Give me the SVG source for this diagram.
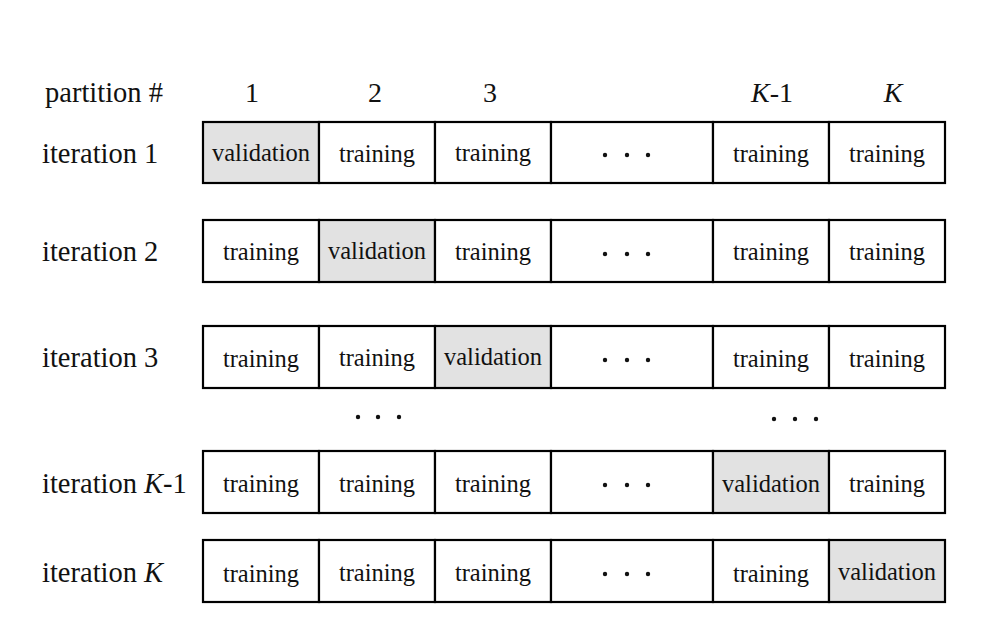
<svg xmlns="http://www.w3.org/2000/svg" width="985" height="634" viewBox="0 0 985 634">
<style>
.c{fill:#ffffff;stroke:#000;stroke-width:2.2}
.v{fill:#e2e2e2;stroke:#000;stroke-width:2.2}
.t{font-family:"Liberation Serif","Times New Roman",serif;font-size:24.5px;text-anchor:middle;fill:#111}
.l{font-family:"Liberation Serif","Times New Roman",serif;font-size:28.5px;fill:#111}
.h{font-family:"Liberation Serif","Times New Roman",serif;font-size:28px;text-anchor:middle;fill:#111}
.d{fill:#111}
</style>
<rect width="985" height="634" fill="#fff"/>
<g id="header">
<text class="l" x="45" y="102">partition #</text>
<text class="h" x="252" y="102">1</text>
<text class="h" x="375" y="102">2</text>
<text class="h" x="490" y="102">3</text>
<text class="h" x="772" y="102"><tspan font-style="italic">K</tspan>-1</text>
<text class="h" x="893" y="102" font-style="italic">K</text>
</g>
<g id="row1">
<text class="l" x="42" y="163">iteration 1</text>
<rect class="v" x="203" y="122" width="116" height="61"/>
<rect class="c" x="319" y="122" width="116" height="61"/>
<rect class="c" x="435" y="122" width="116" height="61"/>
<rect class="c" x="551" y="122" width="162" height="61"/>
<rect class="c" x="713" y="122" width="116" height="61"/>
<rect class="c" x="829" y="122" width="116" height="61"/>
<text class="t" x="261" y="161">validation</text>
<text class="t" x="377" y="162">training</text>
<text class="t" x="493" y="161">training</text>
<circle class="d" cx="605" cy="155" r="2.2"/><circle class="d" cx="627" cy="155" r="2.2"/><circle class="d" cx="648" cy="155" r="2.2"/>
<text class="t" x="771" y="162">training</text>
<text class="t" x="887" y="162">training</text>
</g>
<g id="row2">
<text class="l" x="42" y="261">iteration 2</text>
<rect class="c" x="203" y="220" width="116" height="62"/>
<rect class="v" x="319" y="220" width="116" height="62"/>
<rect class="c" x="435" y="220" width="116" height="62"/>
<rect class="c" x="551" y="220" width="162" height="62"/>
<rect class="c" x="713" y="220" width="116" height="62"/>
<rect class="c" x="829" y="220" width="116" height="62"/>
<text class="t" x="261" y="260">training</text>
<text class="t" x="377" y="259">validation</text>
<text class="t" x="493" y="260">training</text>
<circle class="d" cx="605" cy="254" r="2.2"/><circle class="d" cx="627" cy="254" r="2.2"/><circle class="d" cx="648" cy="254" r="2.2"/>
<text class="t" x="771" y="260">training</text>
<text class="t" x="887" y="260">training</text>
</g>
<g id="row3">
<text class="l" x="42" y="367">iteration 3</text>
<rect class="c" x="203" y="326" width="116" height="62"/>
<rect class="c" x="319" y="326" width="116" height="62"/>
<rect class="v" x="435" y="326" width="116" height="62"/>
<rect class="c" x="551" y="326" width="162" height="62"/>
<rect class="c" x="713" y="326" width="116" height="62"/>
<rect class="c" x="829" y="326" width="116" height="62"/>
<text class="t" x="261" y="367">training</text>
<text class="t" x="377" y="366">training</text>
<text class="t" x="493" y="365">validation</text>
<circle class="d" cx="605" cy="360" r="2.2"/><circle class="d" cx="627" cy="360" r="2.2"/><circle class="d" cx="648" cy="360" r="2.2"/>
<text class="t" x="771" y="367">training</text>
<text class="t" x="887" y="367">training</text>
</g>
<g id="ellipsis-rows">
<circle class="d" cx="358" cy="417" r="2.2"/><circle class="d" cx="378" cy="417" r="2.2"/><circle class="d" cx="399" cy="417" r="2.2"/>
<circle class="d" cx="774" cy="419" r="2.2"/><circle class="d" cx="795" cy="419" r="2.2"/><circle class="d" cx="816" cy="419" r="2.2"/>
</g>
<g id="rowK-1">
<text class="l" x="42" y="493">iteration <tspan font-style="italic">K</tspan>-1</text>
<rect class="c" x="203" y="451" width="116" height="62"/>
<rect class="c" x="319" y="451" width="116" height="62"/>
<rect class="c" x="435" y="451" width="116" height="62"/>
<rect class="c" x="551" y="451" width="162" height="62"/>
<rect class="v" x="713" y="451" width="116" height="62"/>
<rect class="c" x="829" y="451" width="116" height="62"/>
<text class="t" x="261" y="492">training</text>
<text class="t" x="377" y="492">training</text>
<text class="t" x="493" y="492">training</text>
<circle class="d" cx="605" cy="485" r="2.2"/><circle class="d" cx="627" cy="485" r="2.2"/><circle class="d" cx="648" cy="485" r="2.2"/>
<text class="t" x="771" y="492">validation</text>
<text class="t" x="887" y="492">training</text>
</g>
<g id="rowK">
<text class="l" x="42" y="582">iteration <tspan font-style="italic">K</tspan></text>
<rect class="c" x="203" y="540" width="116" height="62"/>
<rect class="c" x="319" y="540" width="116" height="62"/>
<rect class="c" x="435" y="540" width="116" height="62"/>
<rect class="c" x="551" y="540" width="162" height="62"/>
<rect class="c" x="713" y="540" width="116" height="62"/>
<rect class="v" x="829" y="540" width="116" height="62"/>
<text class="t" x="261" y="582">training</text>
<text class="t" x="377" y="581">training</text>
<text class="t" x="493" y="581">training</text>
<circle class="d" cx="605" cy="574" r="2.2"/><circle class="d" cx="627" cy="574" r="2.2"/><circle class="d" cx="648" cy="574" r="2.2"/>
<text class="t" x="771" y="582">training</text>
<text class="t" x="887" y="580">validation</text>
</g>
</svg>
